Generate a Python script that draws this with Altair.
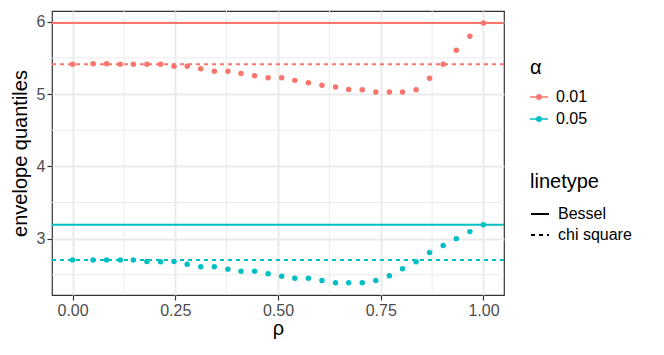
import altair as alt
import pandas as pd

# ---- data ----
rho = [0.0, 0.05, 0.083, 0.116, 0.148, 0.181, 0.214, 0.247, 0.279, 0.312,
       0.345, 0.378, 0.41, 0.443, 0.476, 0.509, 0.541, 0.574, 0.607, 0.64,
       0.672, 0.705, 0.738, 0.771, 0.803, 0.836, 0.869, 0.902, 0.934, 0.967, 1.0]
q_001 = [5.412, 5.42, 5.42, 5.414, 5.414, 5.414, 5.414, 5.386, 5.386, 5.35,
         5.317, 5.317, 5.285, 5.254, 5.226, 5.226, 5.19, 5.157, 5.124, 5.097,
         5.065, 5.06, 5.028, 5.028, 5.028, 5.06, 5.22, 5.414, 5.607, 5.80, 5.985]
q_005 = [2.706, 2.706, 2.706, 2.706, 2.706, 2.683, 2.679, 2.683, 2.647, 2.612,
         2.61, 2.578, 2.55, 2.55, 2.513, 2.48, 2.452, 2.452, 2.42, 2.39,
         2.39, 2.39, 2.42, 2.486, 2.582, 2.679, 2.807, 2.904, 3.0, 3.097, 3.193]
alpha_levels = ["0.01", "0.05"]
line_types = ["Bessel", "chi square"]
hline_alpha = ["0.01", "0.01", "0.05", "0.05"]
hline_type = ["Bessel", "chi square", "Bessel", "chi square"]
hline_value = [5.985, 5.412, 3.193, 2.706]
x_ticks = [0.0, 0.25, 0.5, 0.75, 1.0]
x_minor = [0.125, 0.375, 0.625, 0.875]
y_ticks = [3, 4, 5, 6]
y_minor = [2.5, 3.5, 4.5, 5.5]

pts = pd.DataFrame({
    "rho": rho + rho,
    "alpha": [alpha_levels[0]] * len(q_001) + [alpha_levels[1]] * len(q_005),
    "q": q_001 + q_005,
})
hl = pd.DataFrame({"alpha": hline_alpha, "linetype": hline_type, "q": hline_value})
xm = pd.DataFrame({"rho": x_minor})
ym = pd.DataFrame({"q": y_minor})

FONT = "Liberation Sans"
xscale = alt.Scale(domain=[-0.05, 1.05], nice=False, zero=False)
yscale = alt.Scale(domain=[2.22, 6.15], nice=False, zero=False)
cscale = alt.Scale(domain=alpha_levels, range=["#F8766D", "#00BFC4"])
dscale = alt.Scale(domain=line_types, range=[[1, 0], [4, 4]])

x_enc = alt.X("rho:Q", scale=xscale, title="ρ",
              axis=alt.Axis(values=x_ticks, format=".2f"))
y_enc = alt.Y("q:Q", scale=yscale, title="envelope quantiles",
              axis=alt.Axis(values=y_ticks, format="d"))

minor_x = alt.Chart(xm).mark_rule(color="#EBEBEB", strokeWidth=1).encode(x=x_enc)
minor_y = alt.Chart(ym).mark_rule(color="#EBEBEB", strokeWidth=1).encode(y=y_enc)

hlines = alt.Chart(hl).mark_rule(strokeWidth=2).encode(
    y=y_enc,
    color=alt.Color("alpha:N", scale=cscale, legend=None),
    strokeDash=alt.StrokeDash(
        "linetype:N", scale=dscale,
        legend=alt.Legend(
            title="linetype", orient="none", legendX=478, legendY=161,
            symbolType="stroke", symbolSize=324, symbolStrokeWidth=2,
            symbolStrokeColor="black", titlePadding=12, rowPadding=3,
        ),
    ),
)

circle_path = ("M-1,-0.09H1V0.09H-1Z "
               "M-0.34,0A0.34,0.34,0,1,1,0.34,0A0.34,0.34,0,1,1,-0.34,0Z")
points = alt.Chart(pts).mark_point(filled=True, size=30, opacity=1).encode(
    x=x_enc,
    y=y_enc,
    color=alt.Color(
        "alpha:N", scale=cscale,
        legend=alt.Legend(
            title="α", orient="none", legendX=478, legendY=47,
            symbolType=circle_path, symbolSize=324, symbolStrokeWidth=0,
            titlePadding=10, rowPadding=5,
        ),
    ),
)

chart = alt.layer(minor_x, minor_y, hlines, points).resolve_legend(
    color="independent"
).properties(
    width=452, height=284,
    autosize=alt.AutoSizeParams(type="none"),
    padding={"left": 44, "top": 3, "right": 150, "bottom": 50},
).configure_view(
    stroke="#333333", strokeWidth=1.2, fill="white"
).configure_axis(
    domain=False, grid=True, gridColor="#EBEBEB", gridWidth=2,
    tickColor="#333333", tickSize=5, tickWidth=1.2,
    labelFont=FONT, labelFontSize=16, labelColor="#4D4D4D", labelPadding=2,
    titleFont=FONT, titleFontSize=20, titleColor="black", titleFontWeight="normal",
).configure_axisX(
    titlePadding=0,
).configure_axisY(
    titlePadding=6,
).configure_legend(
    labelFont=FONT, labelFontSize=16, labelColor="black",
    titleFont=FONT, titleFontSize=20, titleColor="black", titleFontWeight="normal",
    padding=0, labelOffset=8,
)

chart.save("out.html", embed_options={"renderer": "svg", "actions": False})
